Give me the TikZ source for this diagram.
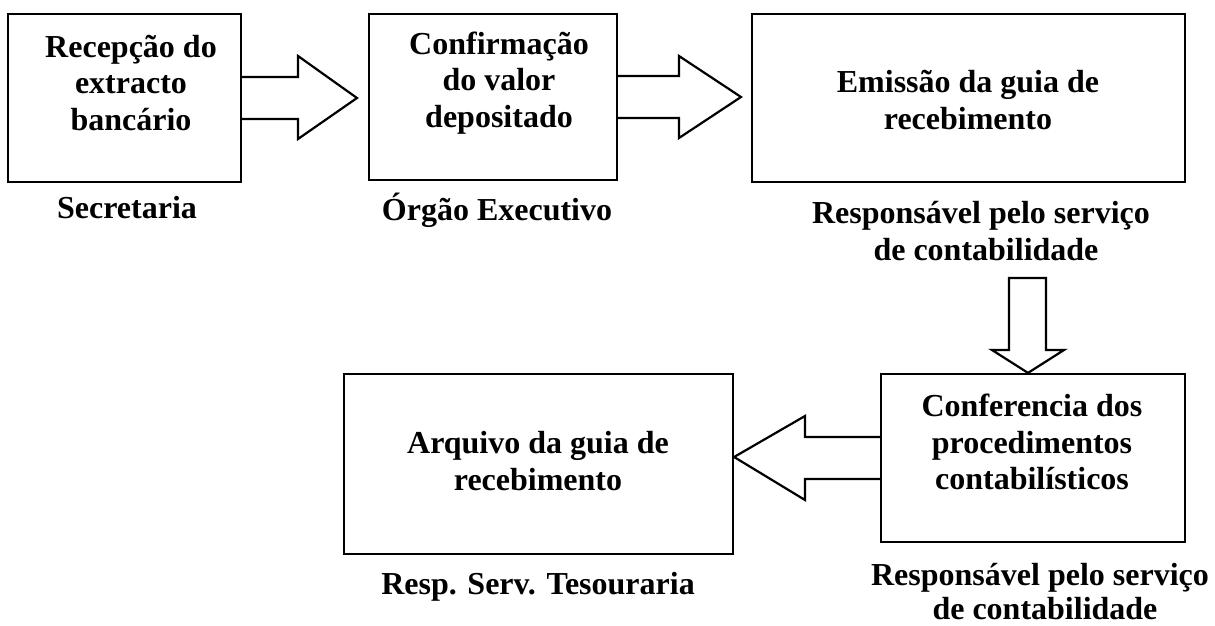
\documentclass[tikz,border=0pt]{standalone}
\usepackage{fontspec}
\setmainfont{Liberation Serif}
\begin{document}
\begin{tikzpicture}[x=1pt,y=-1pt,
  box/.style={draw=black,line width=2.2pt,fill=white,inner sep=0pt,rectangle},
  txt/.style={font=\fontsize{32}{36.5}\selectfont\bfseries,align=center,inner sep=0pt},
  blockarrow/.style={draw=black,line width=2.2pt,line join=miter,fill=white}]
\useasboundingbox (0,0) rectangle (1215,626);
% boxes
\node[box,minimum width=233pt,minimum height=168pt] (b1) at (124.5,98) {};
\node[box,minimum width=248pt,minimum height=166pt] (b2) at (493,97) {};
\node[box,minimum width=433pt,minimum height=168pt] (b3) at (968.5,98) {};
\node[box,minimum width=389pt,minimum height=180pt] (b4) at (538.5,464) {};
\node[box,minimum width=304pt,minimum height=168pt] (b5) at (1033,458) {};
% box texts
\node[txt] (t1) at (131,83) {Recepção do\\extracto\\bancário};
\node[txt] (t2) at (499,83) {Confirmação\\do valor\\depositado};
\node[txt] (t3) at (968,100) {Emissão da guia de\\recebimento};
\node[txt] (t4) at (538,461) {Arquivo da guia de\\recebimento};
\node[txt] (t5) at (1032,442) {Conferencia dos\\procedimentos\\contabilísticos};
% labels
\node[txt] (l1) at (127,208) {Secretaria};
\node[txt] (l2) at (497,210) {Órgão Executivo};
\node[txt] (l3) at (981,231) {Responsável pelo serviço\\\hspace*{10pt}de contabilidade};
\node[txt] (l4) at (538,587) {Resp. Serv. Tesouraria};
\node[txt,font=\fontsize{32}{34}\selectfont\bfseries] (l5) at (1040,592) {Responsável pelo serviço\\\hspace*{10pt}de contabilidade};
% block arrows
\draw[blockarrow] (b1.east |- 0,77) -- (298,77) -- (298,56) -- (357,98) -- (298,139) -- (298,119) -- (b1.east |- 0,119);
\draw[blockarrow] (b2.east |- 0,76) -- (679,76) -- (679,56) -- (741,97) -- (679,138) -- (679,118) -- (b2.east |- 0,118);
\coordinate (dtop) at (1027.5,278);
\draw[blockarrow] (dtop -| 1009,0) -- (1009,350) -- (992,350) -- (b5.north -| 1028,0) -- (1064,350) -- (1046,350) -- (dtop -| 1046,0) -- cycle;
\draw[blockarrow] (b5.west |- 0,437) -- (805,437) -- (805,416) -- (b4.east |- 0,457) -- (805,500) -- (805,479) -- (b5.west |- 0,479);
\end{tikzpicture}
\end{document}
